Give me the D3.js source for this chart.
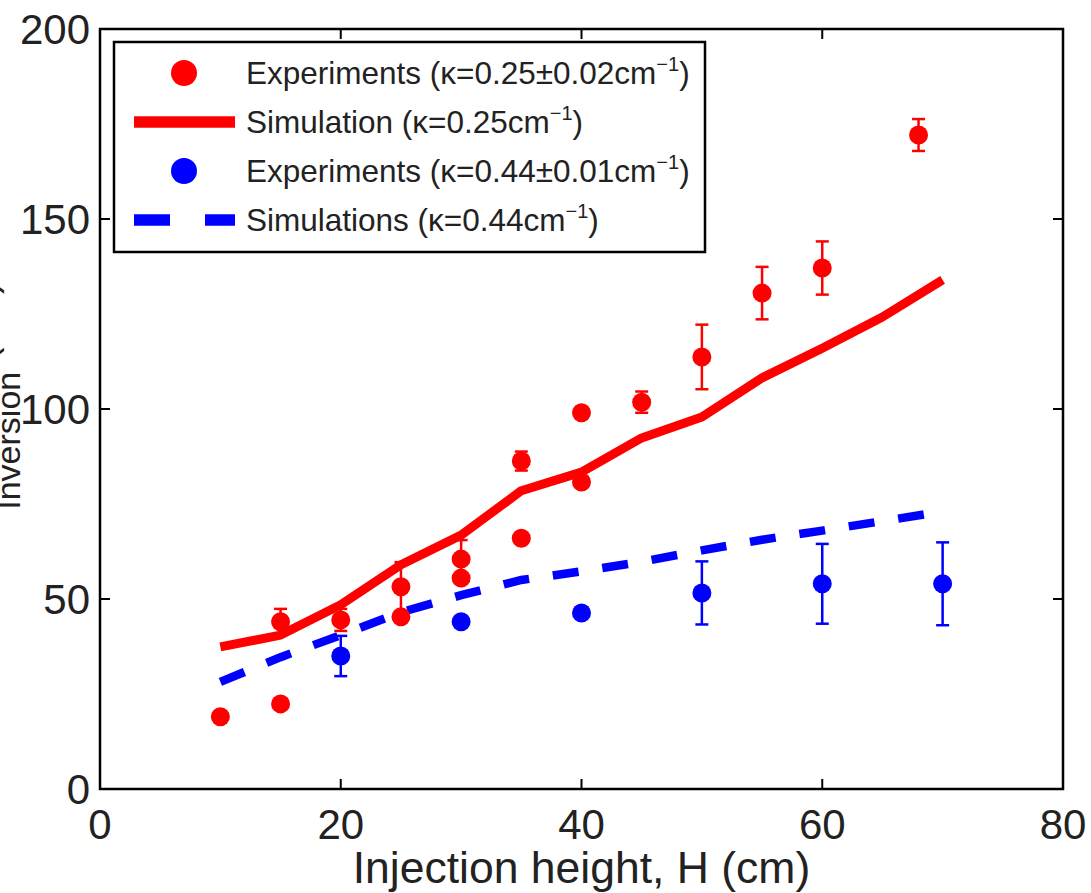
<!DOCTYPE html>
<html>
<head>
<meta charset="utf-8">
<script src="https://cdn.jsdelivr.net/npm/d3@7"></script>
<style>
  body { margin: 0; background: #fff; }
  text { font-family: "Liberation Sans", Arial, sans-serif; fill: #222; }
</style>
</head>
<body>
<div id="chart"></div>
<script>
// red experiments (kappa = 0.25)
const redX   = [10, 15, 15, 20, 25, 25, 30, 30, 35, 35, 40, 40, 45, 50, 55, 60, 68];
const redY   = [19, 22.4, 44, 44.5, 53.2, 45.3, 60.5, 55.5, 86.3, 66, 99, 80.8, 101.8, 113.7, 130.5, 137.1, 172.1];
const redErr = [0, 0, 3.4, 2.9, 6.5, 0, 5, 0, 2.5, 0, 1.5, 0, 2.8, 8.5, 6.9, 7, 4.2];

// blue experiments (kappa = 0.44)
const blueX   = [20, 30, 40, 50, 60, 70];
const blueY   = [35, 44, 46.3, 51.6, 54, 54];
const blueErr = [5.3, 0, 0, 8.3, 10.5, 10.9];

// simulations
const simX     = [10, 15, 20, 25, 30, 35, 40, 45, 50, 55, 60, 65, 70];
const simRed   = [37.4, 40.5, 48.5, 59, 66.8, 78.5, 83.4, 92.4, 97.9, 108.2, 116, 124.2, 134];
const simBlue  = [28.2, 34.7, 40.5, 46.5, 51, 55, 57.3, 59.8, 62.8, 65.6, 68, 70.5, 73];

const xTicks = [0, 20, 40, 60, 80];
const yTicks = [0, 50, 100, 150, 200];

const legendLabels = [
    {kind: "dot",  color: "#ff0000", text: "Experiments (\u03ba=0.25\u00b10.02cm"},
    {kind: "line", color: "#ff0000", text: "Simulation (\u03ba=0.25cm"},
    {kind: "dot",  color: "#0000ff", text: "Experiments (\u03ba=0.44\u00b10.01cm"},
    {kind: "dash", color: "#0000ff", text: "Simulations (\u03ba=0.44cm"}
];

const width = 1091, height = 893;
const pLeft = 100, pRight = 1063, pTop = 29, pBottom = 789;

const x = d3.scaleLinear().domain([0, 80]).range([pLeft, pRight]);
const y = d3.scaleLinear().domain([0, 200]).range([pBottom, pTop]);

const svg = d3.select("#chart").append("svg")
    .attr("width", width)
    .attr("height", height);

// simulation lines
const line = d3.line()
    .x(function(d) { return x(d[0]); })
    .y(function(d) { return y(d[1]); });

svg.append("path")
    .datum(d3.zip(simX, simRed))
    .attr("d", line)
    .attr("fill", "none")
    .attr("stroke", "#ff0000")
    .attr("stroke-width", 9)
    .attr("stroke-linejoin", "round");

svg.append("path")
    .datum(d3.zip(simX, simBlue))
    .attr("d", line)
    .attr("fill", "none")
    .attr("stroke", "#0000ff")
    .attr("stroke-width", 8.5)
    .attr("stroke-dasharray", "26,24");

// experiments with error bars
function drawPoints(xs, ys, errs, color) {
    const data = d3.zip(xs, ys, errs);
    const g = svg.append("g");
    const withErr = data.filter(function(d) { return d[2] > 0; });

    const eb = g.selectAll("g.err").data(withErr).enter().append("g")
        .attr("stroke", color)
        .attr("stroke-width", 2.5);
    eb.append("line")
        .attr("x1", function(d) { return x(d[0]); })
        .attr("x2", function(d) { return x(d[0]); })
        .attr("y1", function(d) { return y(d[1] - d[2]); })
        .attr("y2", function(d) { return y(d[1] + d[2]); });
    eb.append("line")
        .attr("x1", function(d) { return x(d[0]) - 6.5; })
        .attr("x2", function(d) { return x(d[0]) + 6.5; })
        .attr("y1", function(d) { return y(d[1] + d[2]); })
        .attr("y2", function(d) { return y(d[1] + d[2]); });
    eb.append("line")
        .attr("x1", function(d) { return x(d[0]) - 6.5; })
        .attr("x2", function(d) { return x(d[0]) + 6.5; })
        .attr("y1", function(d) { return y(d[1] - d[2]); })
        .attr("y2", function(d) { return y(d[1] - d[2]); });

    g.selectAll("circle").data(data).enter().append("circle")
        .attr("cx", function(d) { return x(d[0]); })
        .attr("cy", function(d) { return y(d[1]); })
        .attr("r", 9.5)
        .attr("fill", color);
}
drawPoints(redX, redY, redErr, "#ff0000");
drawPoints(blueX, blueY, blueErr, "#0000ff");

// axes box
svg.append("rect")
    .attr("x", pLeft).attr("y", pTop)
    .attr("width", pRight - pLeft).attr("height", pBottom - pTop)
    .attr("fill", "none")
    .attr("stroke", "#000")
    .attr("stroke-width", 2.5);

const tickLen = 10;
const ticks = svg.append("g").attr("stroke", "#000").attr("stroke-width", 2);
xTicks.forEach(function(t) {
    ticks.append("line").attr("x1", x(t)).attr("x2", x(t)).attr("y1", pBottom).attr("y2", pBottom - tickLen);
    ticks.append("line").attr("x1", x(t)).attr("x2", x(t)).attr("y1", pTop).attr("y2", pTop + tickLen);
});
yTicks.forEach(function(t) {
    ticks.append("line").attr("x1", pLeft).attr("x2", pLeft + tickLen).attr("y1", y(t)).attr("y2", y(t));
    ticks.append("line").attr("x1", pRight).attr("x2", pRight - tickLen).attr("y1", y(t)).attr("y2", y(t));
});

svg.append("g").selectAll("text").data(xTicks).enter().append("text")
    .attr("x", function(d) { return x(d); })
    .attr("y", 839)
    .attr("text-anchor", "middle")
    .style("font-size", "42px")
    .text(function(d) { return d; });

svg.append("g").selectAll("text").data(yTicks).enter().append("text")
    .attr("x", 90)
    .attr("y", function(d) { return y(d) + 15; })
    .attr("text-anchor", "end")
    .style("font-size", "42px")
    .text(function(d) { return d; });

// axis titles
svg.append("text")
    .attr("x", (pLeft + pRight) / 2)
    .attr("y", 883)
    .attr("text-anchor", "middle")
    .style("font-size", "44.5px")
    .text("Injection height, H (cm)");

// y title runs off the left edge, as in the source figure
const yTitle = svg.append("text")
    .attr("transform", "translate(-4,532) rotate(-90)")
    .style("font-size", "40px");
yTitle.append("tspan").text("L");
yTitle.append("tspan").attr("dy", 24).style("font-size", "34px").text("Inversion");
yTitle.append("tspan").attr("dy", -24).text(" (cm)");

// legend
const legend = svg.append("g");
legend.append("rect")
    .attr("x", 114).attr("y", 42)
    .attr("width", 591).attr("height", 210)
    .attr("fill", "#fff")
    .attr("stroke", "#000")
    .attr("stroke-width", 2.5);

const rowY = d3.scalePoint().domain(d3.range(legendLabels.length)).range([73, 220]);

legendLabels.forEach(function(l, i) {
    const cy = rowY(i);
    if (l.kind === "dot") {
        legend.append("circle").attr("cx", 184).attr("cy", cy).attr("r", 13).attr("fill", l.color);
    } else {
        legend.append("line")
            .attr("x1", 134).attr("x2", 235)
            .attr("y1", cy).attr("y2", cy)
            .attr("stroke", l.color)
            .attr("stroke-width", 11.5)
            .attr("stroke-dasharray", l.kind === "dash" ? "36,35" : null);
    }
    const t = legend.append("text")
        .attr("x", 246)
        .attr("y", cy + 11)
        .style("font-size", "31.5px");
    t.append("tspan").text(l.text);
    t.append("tspan").attr("dy", -13).style("font-size", "20px").text("\u22121");
    t.append("tspan").attr("dy", 13).text(")");
});
</script>
</body>
</html>
